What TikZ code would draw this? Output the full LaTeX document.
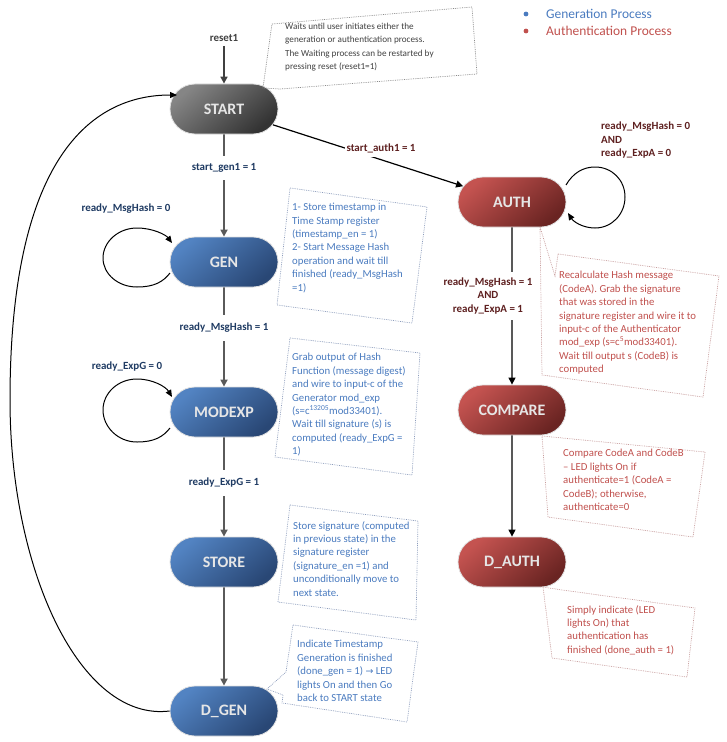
\documentclass[tikz,border=0pt]{standalone}
\usepackage{fontspec}
\setmainfont{Carlito}
\newfontfamily\symfont{DejaVu Sans}
\usetikzlibrary{shapes.misc,arrows.meta}
\definecolor{gentop}{HTML}{5283C2}
\definecolor{genbot}{HTML}{294775}
\definecolor{authtop}{HTML}{C45350}
\definecolor{authbot}{HTML}{6A2422}
\definecolor{stop}{HTML}{858585}
\definecolor{sbot}{HTML}{333333}
\definecolor{gentext}{HTML}{4A7BBF}
\definecolor{authtext}{HTML}{C0504D}
\definecolor{genlab}{HTML}{1F3B63}
\definecolor{authlab}{HTML}{5E2020}
\definecolor{genline}{HTML}{5A5A5A}
\definecolor{genbox}{HTML}{8C9CBC}
\definecolor{authbox}{HTML}{C79C9C}
\definecolor{startbox}{HTML}{8A8A8A}
\definecolor{nodetext}{HTML}{E6E6E6}
\tikzset{
  state/.style={rounded rectangle, minimum width=108bp, minimum height=50bp,
    inner sep=0pt, draw=white!88!black, line width=0.8bp,
    font=\fontsize{16}{18}\selectfont\bfseries, text=nodetext},
  genst/.style={state, top color=gentop, bottom color=genbot, shading angle=40},
  authst/.style={state, top color=authtop, bottom color=authbot, shading angle=40},
  startst/.style={state, top color=stop, bottom color=sbot, shading angle=40},
  genarrow/.style={draw=genline, line width=1.6bp, -{Triangle[length=7bp,width=7bp]}},
  authline/.style={draw=black, line width=1.3bp, -{Triangle[length=7bp,width=7bp]}},
  loopst/.style={draw=black, line width=1bp, -{Triangle[length=7bp,width=6bp]}},
  elab/.style={font=\fontsize{11}{13.5}\selectfont\bfseries, inner xsep=2bp, inner ysep=0bp},
  genlabel/.style={elab, text=genlab, fill=white, inner ysep=8bp},
  authlabel/.style={elab, text=authlab},
  caltext/.style={font=\fontsize{10.8}{13.5}\selectfont, align=left, anchor=north west, inner sep=0pt},
  calbox/.style={line width=0.7bp, dash pattern=on 0.8bp off 1bp},
}
\begin{document}
\begin{tikzpicture}[x=1bp,y=-1bp]
\useasboundingbox (0,0) rectangle (727,742);

% legend
\fill[gentext] (526,14) circle (2.4bp);
\node[anchor=west, inner sep=0pt, text=gentext, font=\fontsize{13.5}{15}\selectfont] (lg1) at (546,14) {Generation Process};
\fill[authtext] (526,31) circle (2.4bp);
\node[anchor=west, inner sep=0pt, text=authtext, font=\fontsize{13.5}{15}\selectfont] (lg2) at (546,31) {Authentication Process};

% states
\node[startst] (START) at (224,109) {START};
\node[genst] (GEN) at (224,262) {GEN};
\node[genst] (MODEXP) at (224,412) {MODEXP};
\node[genst] (STORE) at (224,562) {STORE};
\node[genst] (DGEN) at (224,711) {D\_GEN};
\node[authst] (AUTH) at (512,202) {AUTH};
\node[authst] (COMPARE) at (512,410) {COMPARE};
\node[authst] (DAUTH) at (512,562) {D\_AUTH};

% reset
\node[elab, text=black!75] (reset) at (224,38) {reset1};
\draw[genarrow, draw=black!75] (reset.south) ++(0,-4bp) -- (START.north);

% generation path
\draw[genarrow] (START) -- (GEN);
\node[genlabel] (l1) at (224,168) {start\_gen1 = 1};
\draw[genarrow] (GEN) -- (MODEXP);
\node[genlabel] (l2) at (224,328) {ready\_MsgHash = 1};
\draw[genarrow] (MODEXP) -- (STORE);
\node[genlabel] (l3) at (224,483) {ready\_ExpG = 1};
\draw[genarrow] (STORE) -- (DGEN);

% self loops generation
\draw[loopst] (170,273) .. controls (163,282) and (154,287) .. (137,287)
  .. controls (118,287) and (103,274) .. (103,258)
  .. controls (103,242) and (118,228) .. (137,228)
  .. controls (153,228) and (166,235) .. (172,243);
\node[elab, text=genlab] (l4) at (126,209) {ready\_MsgHash = 0};
\draw[loopst] (170,428) .. controls (163,437) and (154,442) .. (137,442)
  .. controls (118,442) and (103,427) .. (103,410)
  .. controls (103,393) and (118,379) .. (137,379)
  .. controls (153,379) and (166,387) .. (172,397);
\node[elab, text=genlab] (l5) at (127,367) {ready\_ExpG = 0};

% return to start
\draw[loopst] (DGEN.west) .. controls (80,722) and (10,570) .. (10,400)
  .. controls (10,160) and (90,95) .. (177,95);

% authentication path
\draw[authline, line width=1.2bp] (START) -- (AUTH);
\node[authlabel, fill=white, inner ysep=4bp] (l6) at (381,148) {start\_auth1 = 1};
\draw[authline] (AUTH) -- (COMPARE);
\node[authlabel, fill=white, inner ysep=6bp, align=center] (l7) at (488,296) {ready\_MsgHash = 1\\AND\\ready\_ExpA = 1};
\draw[authline] (COMPARE) -- (DAUTH);
\draw[loopst] (566,185) .. controls (573,173) and (583,167) .. (595,167)
  .. controls (612,167) and (625,180) .. (625,197)
  .. controls (625,214) and (612,228) .. (595,228)
  .. controls (582,228) and (573,221) .. (568,213);
\node[authlabel, align=left, anchor=north west, inner sep=0pt] (l8) at (601,122) {ready\_MsgHash = 0\\AND\\ready\_ExpA = 0};

% callouts
\draw[calbox, draw=startbox] (272,24) -- (472,7) -- (477,74) -- (280,89) -- (263,88) -- cycle;
\node[caltext, text=black!75, font=\fontsize{9.2}{13.4}\selectfont] (cSTART) at (285,23) {Waits until user initiates either the\\generation or authentication process.\\The Waiting process can be restarted by\\pressing reset (reset1=1)};

\draw[calbox, draw=genbox] (290,188) -- (427,207) -- (412,323) -- (277,305) -- cycle;
\node[caltext, text=gentext] (cGEN) at (292,203) {1- Store timestamp in\\Time Stamp register\\(timestamp\_en = 1)\\2- Start Message Hash\\operation and wait till\\finished (ready\_MsgHash\\=1)};

\draw[calbox, draw=genbox] (290,338) -- (420,353) -- (412,475) -- (275,457) -- cycle;
\node[caltext, text=gentext] (cMOD) at (292,353) {Grab output of Hash\\Function (message digest)\\and wire to input-c of the\\Generator mod\_exp\\(s=c\textsuperscript{13205}mod33401).\\Wait till signature (s) is\\computed (ready\_ExpG =\\1)};

\draw[calbox, draw=genbox] (290,505) -- (418,521) -- (416,620) -- (278,602) -- cycle;
\node[caltext, text=gentext] (cSTORE) at (293,521) {Store signature (computed\\in previous state) in the\\signature register\\(signature\_en =1) and\\unconditionally move to\\next state.};

\draw[calbox, draw=genbox] (293,625) -- (418,642) -- (407,722) -- (282,703) -- (283,695) -- (267,689) -- (286,672) -- cycle;
\node[caltext, text=gentext] (cDGEN) at (297,640) {Indicate Timestamp\\Generation is finished\\(done\_gen = 1) {\symfont\fontsize{9.5}{13.5}\selectfont →} LED\\lights On and then Go\\back to START state};

\draw[calbox, draw=authbox] (558,254) -- (719,276) -- (703,397) -- (542,375) -- (540,227) -- (555,276) -- cycle;
\node[caltext, text=authtext] (cAUTH) at (559,271) {Recalculate Hash message\\(CodeA). Grab the signature\\that was stored in the\\signature register and wire it to\\input-c of the Authenticator\\mod\_exp (s=c\textsuperscript{5}mod33401).\\Wait till output s (CodeB) is\\computed};

\draw[calbox, draw=authbox] (542,436) -- (705,452) -- (693,537) -- (548,517) -- cycle;
\node[caltext, text=authtext] (cCOMP) at (563,449) {Compare CodeA and CodeB\\– LED lights On if\\authenticate=1 (CodeA =\\CodeB); otherwise,\\authenticate=0};

\draw[calbox, draw=authbox] (543,587) -- (562,590) -- (695,608) -- (687,677) -- (552,658) -- cycle;
\node[caltext, text=authtext] (cDAUTH) at (567,605) {Simply indicate (LED\\lights On) that\\authentication has\\finished (done\_auth = 1)};
\end{tikzpicture}
\end{document}
